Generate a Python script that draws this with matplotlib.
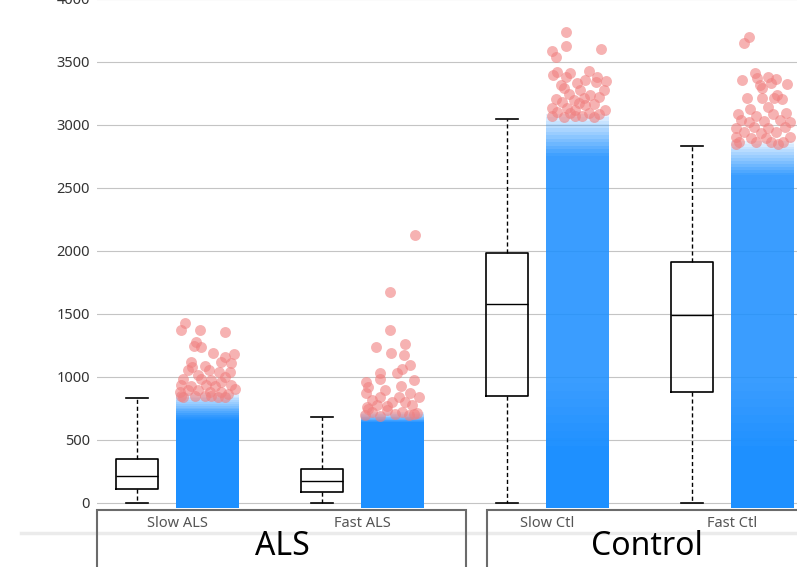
import matplotlib.pyplot as plt
import matplotlib.transforms as mtransforms
from matplotlib.patches import Rectangle
import numpy as np

plt.rcParams['font.family'] = ['Noto Sans', 'DejaVu Sans']

# groups and box statistics
groups = ['Slow ALS', 'Fast ALS', 'Slow Ctl', 'Fast Ctl']
super_groups = ['ALS', 'Control']
whislo = [0, 0, 0, 0]
q1 = [110, 90, 850, 880]
med = [215, 177, 1580, 1493]
q3 = [350, 272, 1985, 1913]
whishi = [835, 683, 3051, 2837]

# how dense the blue point cloud looks
cloud_mid_top = [700, 650, 2750, 2600]
cloud_solid_top = [660, 640, 450, 450]

# outliers: (jitter, value) per group
out_slow_als_x = [-0.12, -0.139, -0.038, 0.099, -0.058, -0.07, -0.031, 0.032, 0.146, 0.096,
                  -0.088, 0.077, 0.131, -0.012, -0.081, -0.106, 0.012, 0.123, 0.063, -0.052,
                  0.096, -0.13, -0.031, 0.023, 0.077, -0.139, -0.085, -0.004, 0.042, 0.131,
                  -0.148, -0.103, -0.049, 0.015, 0.077, 0.15, -0.13, -0.066, -0.012, 0.059,
                  0.114, -0.142, 0.023, 0.096]
out_slow_als_y = [1426, 1373, 1373, 1355, 1280, 1246, 1241, 1193, 1183, 1156,
                  1122, 1122, 1114, 1087, 1077, 1056, 1056, 1042, 1037, 1016,
                  1003, 982, 982, 976, 963, 937, 929, 937, 929, 937,
                  884, 897, 897, 884, 884, 902, 844, 850, 849, 845,
                  865, 848, 846, 845]

out_fast_als_x = [0.124, -0.012, -0.012, -0.086, 0.072, -0.004, 0.066, 0.099, 0.054, 0.027,
                  -0.066, -0.063, -0.144, -0.13, 0.12, 0.05, -0.14, -0.036, 0.099, -0.063,
                  0.036, 0.144, -0.108, 0.0, 0.072, -0.081, -0.027, 0.108, -0.135,
                  -0.146, -0.108, -0.065, -0.027, 0.016, 0.054, 0.092, 0.135, -0.13, 0.12]
out_fast_als_y = [2130, 1672, 1373, 1236, 1262, 1188, 1175, 1095, 1061, 1029,
                  1029, 982, 963, 918, 976, 929, 876, 897, 870, 844,
                  844, 839, 818, 804, 804, 778, 770, 778, 764,
                  700, 720, 690, 735, 705, 725, 695, 715, 745, 710]

out_slow_ctl_x = [-0.058, -0.058, -0.134, -0.117, 0.131, -0.13, -0.108, -0.058, -0.036, 0.063,
                  0.108, 0.157, -0.09, 0.0, 0.045, 0.104, -0.072, 0.018, 0.144, -0.045,
                  0.072, 0.117, -0.117, -0.018, 0.036, -0.081, 0.009, 0.045, 0.09, -0.135,
                  -0.054, -0.009, 0.153, -0.108, -0.036, 0.063, 0.117, -0.135, -0.072, 0.027,
                  0.09, -0.009]
out_slow_ctl_y = [3736, 3630, 3588, 3542, 3603, 3397, 3423, 3384, 3410, 3429,
                  3384, 3349, 3318, 3331, 3357, 3339, 3291, 3278, 3278, 3244,
                  3238, 3225, 3207, 3199, 3217, 3180, 3172, 3159, 3164, 3133,
                  3133, 3119, 3119, 3101, 3093, 3093, 3085, 3070, 3066, 3068,
                  3066, 3075]

out_fast_ctl_x = [-0.072, -0.096, -0.11, -0.036, -0.027, 0.031, 0.076, 0.135, -0.009, -0.002,
                  0.049, -0.081, -0.002, 0.066, 0.081, 0.108, -0.063, 0.031, -0.131, -0.032,
                  0.058, 0.13, -0.114, -0.069, 0.012, 0.094, 0.148, -0.14, -0.042, 0.031,
                  0.121, -0.096, -0.005, 0.076, -0.14, -0.059, 0.022, 0.148, -0.123, -0.032,
                  0.049, 0.112, -0.14, 0.085]
out_fast_ctl_y = [3701, 3649, 3357, 3410, 3371, 3384, 3365, 3323, 3318, 3291,
                  3331, 3217, 3217, 3212, 3238, 3207, 3127, 3146, 3085, 3074,
                  3085, 3093, 3040, 3026, 3032, 3040, 3026, 2974, 2987, 2974,
                  2987, 2947, 2934, 2942, 2907, 2899, 2894, 2907, 2868, 2868,
                  2863, 2868, 2850, 2850]

out_x = [out_slow_als_x, out_fast_als_x, out_slow_ctl_x, out_fast_ctl_x]
out_y = [out_slow_als_y, out_fast_als_y, out_slow_ctl_y, out_fast_ctl_y]

pos = np.arange(len(groups))
box_pos = pos - 0.19
cloud_pos = pos + 0.19

fig = plt.figure(figsize=(7.97, 5.67), dpi=100)
ax = fig.add_axes([97 / 797, 57 / 567, 1 - 97 / 797, 511 / 567])
ax.set_xlim(-75 / 185, 625 / 185)
ax.set_ylim(-55.6, 4000)

ax.set_yticks(np.arange(0, 4001, 500))
ax.grid(axis='y', color='#c4c4c4', linewidth=0.8)
ax.set_axisbelow(True)
ax.tick_params(axis='y', length=0, pad=5, labelsize=10.5, labelcolor='#333333')
ax.set_xticks([])
for s in ax.spines.values():
    s.set_visible(False)

# blue point clouds (drawn as shaded columns, fading out at the top)
pad = 38
cw = 0.34
blue = '#1e90ff'
nfade = 12
for i in range(len(groups)):
    lo, hi = whislo[i], whishi[i]
    ax.bar(cloud_pos[i], cloud_mid_top[i] - lo + pad, bottom=lo - pad, width=cw,
           color=blue, alpha=0.88, linewidth=0)
    ax.bar(cloud_pos[i], cloud_solid_top[i] - lo + pad, bottom=lo - pad, width=cw,
           color=blue, alpha=1.0, linewidth=0)
    # soft step from solid to the lighter middle part
    ramp = np.linspace(cloud_solid_top[i], min(cloud_solid_top[i] + 500, cloud_mid_top[i]), 9)
    for k in range(8):
        ax.bar(cloud_pos[i], ramp[k + 1] - ramp[k], bottom=ramp[k], width=cw,
               color=blue, alpha=0.9 * (1 - (k + 0.5) / 8), linewidth=0)
    edges = np.linspace(cloud_mid_top[i], hi + pad, nfade + 1)
    for k in range(nfade):
        a = 0.8 * (1 - (k + 0.5) / nfade) + 0.08
        ax.bar(cloud_pos[i], edges[k + 1] - edges[k], bottom=edges[k], width=cw,
               color=blue, alpha=a, linewidth=0)

# red outliers
for i in range(len(groups)):
    ax.scatter(cloud_pos[i] + np.array(out_x[i]), out_y[i], s=62, color='#f08080',
               alpha=0.6, linewidths=0, zorder=3)

# box plots
stats = []
for i in range(len(groups)):
    stats.append(dict(whislo=whislo[i], q1=q1[i], med=med[i], q3=q3[i],
                      whishi=whishi[i], fliers=[]))
ax.bxp(stats, positions=box_pos, widths=0.227, capwidths=0.119, showfliers=False,
       manage_ticks=False,
       boxprops=dict(color='black', linewidth=1.2),
       medianprops=dict(color='black', linewidth=1.0),
       whiskerprops=dict(color='black', linewidth=1.0, linestyle=(0, (3, 2))),
       capprops=dict(color='black', linewidth=1.2))

# category axis below the plot
trans = mtransforms.blended_transform_factory(ax.transData, ax.transAxes)
fig.add_artist(plt.Line2D([21 / 797, 1], [(567 - 533) / 567] * 2, color='#ebebeb',
                          linewidth=2.5, zorder=0))
for x0, x1 in [(-0.4054, 1.589), (1.703, 3.46)]:
    ax.add_patch(Rectangle((x0, -0.2), x1 - x0, 0.2, transform=trans, fill=False,
                           edgecolor='#6b6b6b', linewidth=1.5, clip_on=False))
for i, g in enumerate(groups):
    ax.text(pos[i] + 0.027, -17 / 511, g, transform=trans, ha='center', va='baseline',
            fontsize=10.5, color='#555555')
for x, g in zip([0.5946, 2.568], super_groups):
    ax.text(x, -45 / 511, g, transform=trans, ha='center', va='baseline',
            fontsize=23, color='black')

fig.savefig('out.png', dpi=100)
